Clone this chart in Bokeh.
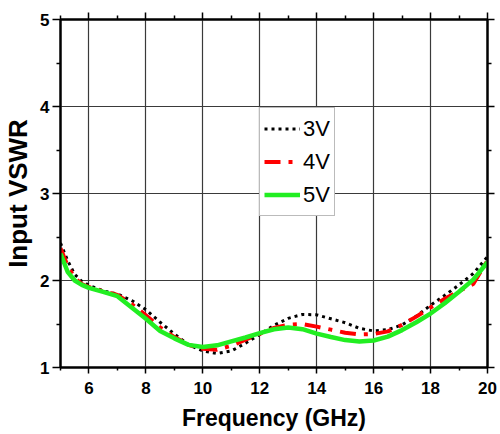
from bokeh.plotting import figure
from bokeh.models import FixedTicker, LinearAxis, Legend, LegendItem, Range1d
from bokeh.embed import file_html
from bokeh.resources import INLINE

freq = [5.0, 5.25, 5.5, 5.75, 6.0, 6.5, 7.0, 7.5, 8.0, 8.5, 9.0, 9.5, 10.0, 10.5,
        11.0, 11.5, 12.0, 12.5, 13.0, 13.5, 14.0, 14.5, 15.0, 15.5, 16.0, 16.5,
        17.0, 17.5, 18.0, 18.5, 19.0, 19.5, 20.0]
vswr_3v = [2.43, 2.23, 2.07, 1.99, 1.945, 1.88, 1.845, 1.77, 1.665, 1.52, 1.385, 1.26,
           1.19, 1.16, 1.19, 1.28, 1.38, 1.485, 1.565, 1.61, 1.605, 1.56, 1.515, 1.45,
           1.42, 1.435, 1.49, 1.59, 1.715, 1.83, 1.95, 2.08, 2.275]
vswr_4v = [2.37, 2.17, 2.03, 1.96, 1.925, 1.875, 1.835, 1.73, 1.60, 1.46, 1.35, 1.26,
           1.215, 1.205, 1.25, 1.32, 1.385, 1.455, 1.49, 1.50, 1.47, 1.435, 1.40, 1.38,
           1.385, 1.415, 1.49, 1.585, 1.69, 1.79, 1.88, 1.96, 2.23]
vswr_5v = [2.31, 2.10, 2.00, 1.95, 1.915, 1.87, 1.82, 1.69, 1.56, 1.42, 1.335, 1.26,
           1.235, 1.255, 1.30, 1.345, 1.395, 1.44, 1.46, 1.44, 1.39, 1.35, 1.315, 1.30,
           1.31, 1.355, 1.43, 1.52, 1.62, 1.74, 1.87, 2.01, 2.21]
series_labels = ["3V", "4V", "5V"]
x_ticks = [6, 8, 10, 12, 14, 16, 18, 20]
x_minor = [5, 7, 9, 11, 13, 15, 17, 19]
y_ticks = [1, 2, 3, 4, 5]
y_minor = [1.5, 2.5, 3.5, 4.5]

FONT = "Liberation Sans"

p = figure(width=500, height=434, x_range=Range1d(5, 20), y_range=Range1d(1, 5),
           output_backend="svg", toolbar_location=None,
           min_border_left=58, min_border_right=13, min_border_top=19, min_border_bottom=67)
p.background_fill_color = "white"
p.border_fill_color = "white"
p.outline_line_color = "black"
p.outline_line_width = 2

xt = FixedTicker(ticks=x_ticks, minor_ticks=x_minor)
yt = FixedTicker(ticks=y_ticks, minor_ticks=y_minor)

bottom = p.below[0]
left = p.left[0]
bottom.ticker = xt
left.ticker = yt
bottom.axis_label = "Frequency (GHz)"
left.axis_label = "Input VSWR"

top = LinearAxis(ticker=xt)
right = LinearAxis(ticker=yt)
p.add_layout(top, "above")
p.add_layout(right, "right")

for ax in [bottom, left, top, right]:
    ax.axis_line_color = "black"
    ax.axis_line_width = 2
    ax.major_tick_line_color = "black"
    ax.major_tick_line_width = 1.5
    ax.minor_tick_line_color = "black"
    ax.minor_tick_line_width = 1.5
    ax.major_tick_in = 0
    ax.minor_tick_in = 0
    ax.major_label_text_font = FONT
    ax.major_label_text_font_style = "bold"
    ax.major_label_text_color = "black"
    ax.axis_label_text_font = FONT
    ax.axis_label_text_font_style = "bold"
    ax.axis_label_text_color = "black"

bottom.major_tick_out = 6
bottom.minor_tick_out = 3
bottom.major_label_text_font_size = "17px"
bottom.major_label_standoff = 8
bottom.axis_label_text_font_size = "23px"
bottom.axis_label_standoff = 8

left.major_tick_out = 8
left.minor_tick_out = 4
left.major_label_text_font_size = "17px"
left.major_label_standoff = 3
left.axis_label_text_font_size = "26px"
left.axis_label_standoff = 4

for ax in [top, right]:
    ax.major_tick_out = 7
    ax.minor_tick_out = 4
    ax.major_label_text_font_size = "1px"
    ax.major_label_text_alpha = 0
    ax.major_label_standoff = 0

p.xgrid.ticker = xt
p.ygrid.ticker = yt
p.xgrid.grid_line_color = "#3a3a3a"
p.ygrid.grid_line_color = "#3a3a3a"
p.xgrid.grid_line_width = 1.2
p.ygrid.grid_line_width = 1.2

r3 = p.line(freq, vswr_3v, line_color="black", line_width=3, line_dash="3 4")
r4 = p.line(freq, vswr_4v, line_color="#ff0000", line_width=4, line_dash="16 8 4 8")
r5 = p.line(freq, vswr_5v, line_color="#22ee22", line_width=4.5)

legend = Legend(items=[LegendItem(label=series_labels[0], renderers=[r3]),
                       LegendItem(label=series_labels[1], renderers=[r4]),
                       LegendItem(label=series_labels[2], renderers=[r5])],
                location=(199, 151))
legend.label_text_font = FONT
legend.label_text_font_size = "22px"
legend.label_text_color = "black"
legend.glyph_width = 36
legend.glyph_height = 33
legend.label_height = 33
legend.spacing = 0
legend.padding = 4
legend.margin = 0
legend.label_standoff = 3
legend.border_line_color = "#777777"
legend.border_line_width = 1.5
legend.background_fill_color = "white"
legend.background_fill_alpha = 1
p.add_layout(legend)

open("out.html", "w").write(file_html(p, INLINE))
